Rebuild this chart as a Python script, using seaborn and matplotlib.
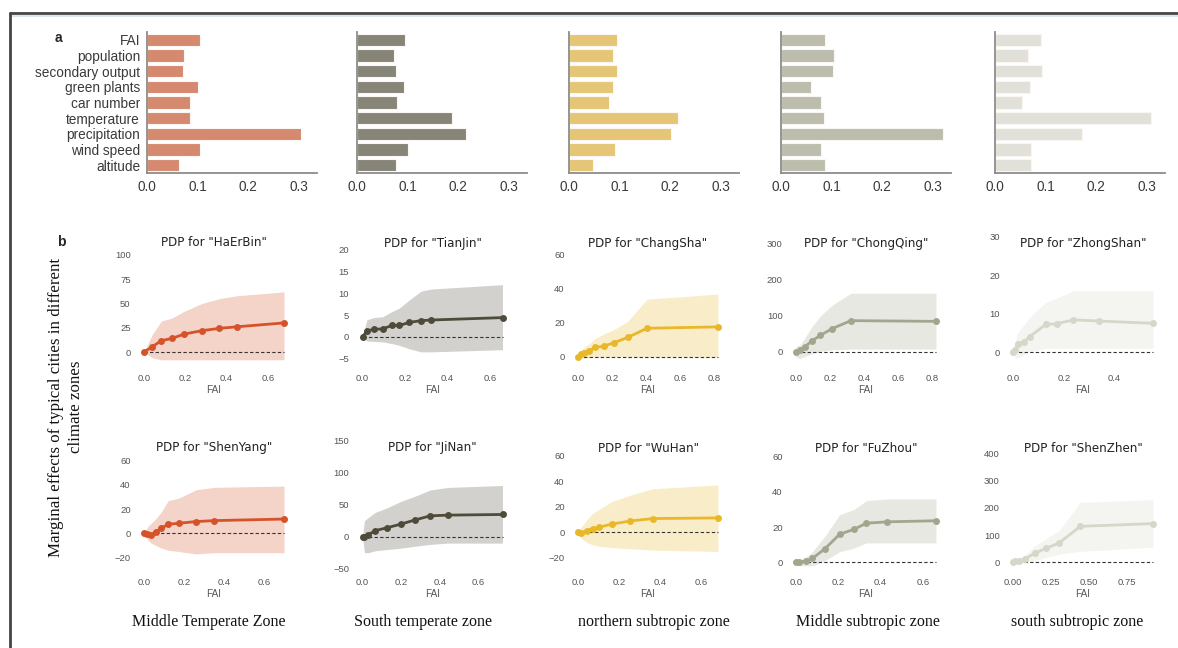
import matplotlib
matplotlib.use("Agg")
import matplotlib.pyplot as plt
from matplotlib.lines import Line2D
import pandas as pd
import seaborn as sns

# ---------------- data ----------------
features = ["FAI", "population", "secondary output", "green plants", "car number",
            "temperature", "precipitation", "wind speed", "altitude"]
zones = ["Middle Temperate Zone", "South temperate zone", "northern subtropic zone",
         "Middle subtropic zone", "south subtropic zone"]

# feature importance per climate zone
imp_middle_temperate = [0.104, 0.074, 0.071, 0.100, 0.085, 0.085, 0.304, 0.104, 0.063]
imp_south_temperate = [0.094, 0.0735, 0.077, 0.093, 0.080, 0.188, 0.2145, 0.1005, 0.0765]
imp_northern_subtropic = [0.094, 0.0865, 0.0947, 0.087, 0.0797, 0.216, 0.2015, 0.091, 0.047]
imp_middle_subtropic = [0.086, 0.105, 0.103, 0.0585, 0.079, 0.0855, 0.321, 0.079, 0.086]
imp_south_subtropic = [0.091, 0.0656, 0.0927, 0.070, 0.053, 0.3075, 0.172, 0.0716, 0.0716]

# partial dependence of each typical city on FAI (grid, pdp, lower, upper)
haerbin = dict(fai=[0, 0.04, 0.084, 0.135, 0.195, 0.28, 0.365, 0.449, 0.678],
               pdp=[0, 5.5, 11.7, 14, 18.5, 22, 24.4, 26, 30],
               lo=[0, -6, -8, -8, -8, -8, -8, -8, -8],
               hi=[0, 18, 32, 35, 42, 50, 55, 58, 62])
tianjin = dict(fai=[0, 0.021, 0.052, 0.095, 0.139, 0.174, 0.221, 0.276, 0.324, 0.66],
               pdp=[0, 1.3, 1.7, 1.8, 2.6, 2.6, 3.3, 3.7, 3.85, 4.4],
               lo=[0, -1.0, -1.1, -1.2, -1.6, -2.0, -2.8, -3.5, -3.5, -3.0],
               hi=[0, 3.9, 4.4, 4.6, 5.8, 6.6, 8.5, 10.5, 11.0, 12.0])
changsha = dict(fai=[0, 0.02, 0.037, 0.063, 0.102, 0.151, 0.209, 0.292, 0.405, 0.822],
                pdp=[0, 1.5, 2.5, 3.7, 5.6, 6.4, 8.3, 11.5, 16.9, 17.7],
                lo=[0, -0.5, -0.5, -0.3, 0, 0, 0, 0, 0, 0],
                hi=[0, 4, 6, 7.5, 11, 13.5, 16, 21, 34, 37])
chongqing = dict(fai=[0, 0.024, 0.053, 0.093, 0.143, 0.212, 0.321, 0.82],
                 pdp=[0, 5.6, 14.8, 30.6, 46.3, 64.8, 87, 85],
                 lo=[-15, -18, -12, -5, 2, 6, 8, 8],
                 hi=[15, 20, 40, 70, 100, 130, 163, 163])
zhongshan = dict(fai=[0, 0.009, 0.018, 0.042, 0.065, 0.129, 0.172, 0.238, 0.338, 0.551],
                 pdp=[0, 0.5, 2.2, 2.6, 4.0, 7.2, 7.4, 8.4, 8.1, 7.5],
                 lo=[0, -1.5, -1.6, -0.8, 0.2, 1, 1, 1, 1, 1],
                 hi=[0, 3, 5, 7, 9, 13, 14, 16, 16, 16])
shenyang = dict(fai=[0, 0.017, 0.034, 0.059, 0.084, 0.121, 0.173, 0.26, 0.35, 0.70],
                pdp=[0, -0.5, -1.5, 1.0, 4.0, 7.5, 8.3, 9.7, 10.5, 11.8],
                lo=[0, -5, -8, -10, -12, -14, -15, -17, -16, -16],
                hi=[0, 5, 8, 12, 17, 27, 29, 36, 38, 39])
jinan = dict(fai=[0, 0.01, 0.03, 0.066, 0.127, 0.197, 0.27, 0.351, 0.443, 0.725],
             pdp=[0, -1, 3, 9.5, 14, 19.5, 26, 32.6, 33.7, 34.7],
             lo=[0, -25, -25, -22, -20, -18, -15, -12, -10, -10],
             hi=[0, 25, 30, 38, 45, 55, 63, 73, 77, 80])
wuhan = dict(fai=[0, 0.016, 0.044, 0.073, 0.105, 0.165, 0.256, 0.365, 0.684],
             pdp=[0, -0.8, 1.3, 2.9, 4, 6.4, 8.8, 10.7, 11.2],
             lo=[0, -5, -8, -10, -11, -12, -13, -14, -15],
             hi=[0, 4, 10, 15, 18, 24, 29, 34, 37])
fuzhou = dict(fai=[0, 0.014, 0.048, 0.078, 0.138, 0.206, 0.273, 0.333, 0.432, 0.662],
              pdp=[0, 0, 0.75, 2.2, 7.8, 15.9, 18.7, 22.2, 23, 23.6],
              lo=[0, -2, -2, -2, 1, 6, 8, 11, 11, 11],
              hi=[0, 1, 3, 6, 15, 27, 30, 35, 36, 36])
shenzhen = dict(fai=[0, 0.015, 0.04, 0.077, 0.143, 0.22, 0.302, 0.444, 0.923],
                pdp=[0, 6, 5, 12, 33, 52, 70, 132, 142],
                lo=[0, -5, -5, -2, 5, 18, 30, 40, 55],
                hi=[0, 10, 15, 25, 60, 88, 115, 220, 230])

city_names = ["HaErBin", "TianJin", "ChangSha", "ChongQing", "ZhongShan",
              "ShenYang", "JiNan", "WuHan", "FuZhou", "ShenZhen"]
city_data = [haerbin, tianjin, changsha, chongqing, zhongshan,
             shenyang, jinan, wuhan, fuzhou, shenzhen]
importances = [imp_middle_temperate, imp_south_temperate, imp_northern_subtropic,
               imp_middle_subtropic, imp_south_subtropic]

# ---------------- styling ----------------
line_colors = ["#d4532b", "#4f4b3a", "#e8b82a", "#a3a58e", "#d6d7c8"]
bar_colors = ["#d5896f", "#878577", "#e5c677", "#bdbdad", "#e1e1d9"]

y_limits = [(-14.4, 123.7), (-6.76, 24.15), (-5.3, 73.5), (-38.9, 333), (-3.6, 31.25),
            (-30.3, 80.4), (-52, 157.3), (-29.5, 75.2), (-4.4, 71.8), (-28.3, 463.5)]
y_ticks = [[0, 25, 50, 75, 100], [-5, 0, 5, 10, 15, 20], [0, 20, 40, 60],
           [0, 100, 200, 300], [0, 10, 20, 30],
           [-20, 0, 20, 40, 60], [-50, 0, 50, 100, 150], [-20, 0, 20, 40, 60],
           [0, 20, 40, 60], [0, 100, 200, 300, 400]]
x_ticks = [[0, 0.2, 0.4, 0.6], [0, 0.2, 0.4, 0.6], [0, 0.2, 0.4, 0.6, 0.8],
           [0, 0.2, 0.4, 0.6, 0.8], [0, 0.2, 0.4],
           [0, 0.2, 0.4, 0.6], [0, 0.2, 0.4, 0.6], [0, 0.2, 0.4, 0.6],
           [0, 0.2, 0.4, 0.6], [0, 0.25, 0.5, 0.75]]

sns.set_style("white")
plt.rcParams["font.family"] = ["Liberation Sans", "DejaVu Sans"]

W, H = 1178, 648
fig = plt.figure(figsize=(W / 100, H / 100), dpi=100)


def px_axes(left, top, right, bottom):
    return fig.add_axes([left / W, 1 - bottom / H, (right - left) / W, (bottom - top) / H])


# ---------------- panel a: importance bars ----------------
bar_lefts = [147, 357, 569, 781, 995]
for i, vals in enumerate(importances):
    ax = px_axes(bar_lefts[i], 32, bar_lefts[i] + 170, 173)
    df = pd.DataFrame({"feature": features, "importance": vals})
    sns.barplot(data=df, x="importance", y="feature", color=bar_colors[i], saturation=1,
                width=0.78, edgecolor="#fbf6f2", linewidth=0.8, ax=ax)
    ax.set_xlim(0, 0.336)
    ax.set_xticks([0, 0.1, 0.2, 0.3])
    ax.set_xticklabels(["0.0", "0.1", "0.2", "0.3"])
    ax.set_xlabel("")
    ax.set_ylabel("")
    sns.despine(ax=ax)
    for s in ["left", "bottom"]:
        ax.spines[s].set_color("#8c8c8c")
        ax.spines[s].set_linewidth(1.3)
    ax.tick_params(axis="both", colors="#8c8c8c", labelcolor="#3a3a3a",
                   labelsize=9.8, length=3, width=0.8, pad=2)
    if i > 0:
        ax.set_yticklabels([])
        ax.tick_params(axis="y", length=0)

# ---------------- panel b: partial dependence ----------------
pdp_x0 = [144, 362.5, 578, 796, 1013]
row_top = [232, 436]
row_bottom = [366, 570]
title_y = [243, 448]
for k, (name, d) in enumerate(zip(city_names, city_data)):
    row, col = divmod(k, 5)
    x0 = pdp_x0[col]
    ax = px_axes(x0 - 5, row_top[row], x0 + 145, row_bottom[row])
    c = line_colors[col]
    xmax = max(d["fai"])
    ax.fill_between(d["fai"], d["lo"], d["hi"], color=c, alpha=0.25, lw=0)
    ax.plot([0, xmax], [0, 0], ls="--", color="#333333", lw=0.8, dashes=(3, 2))
    sns.lineplot(x=d["fai"], y=d["pdp"], color=c, lw=2, marker="o", markersize=5,
                 markeredgewidth=0, ax=ax)
    ax.set_xlim(-5 / 140 * xmax, 145 / 140 * xmax)
    ax.set_ylim(*y_limits[k])
    ax.set_xticks(x_ticks[k])
    ax.set_yticks(y_ticks[k])
    sns.despine(ax=ax, left=True, bottom=True)
    ax.tick_params(colors="#9a9a9a", labelcolor="#555555", labelsize=6.8,
                   length=3.5, width=0.8, pad=2.5)
    ax.set_xlabel("FAI", fontsize=7.2, color="#555555", labelpad=1)
    ax.set_ylabel("")
    fig.text((x0 + 70) / W, 1 - title_y[row] / H, f'PDP for "{name}"', ha="center",
             va="center", fontsize=8.6, family="DejaVu Sans", color="#222222")

# ---------------- labels ----------------
fig.text(55 / W, 1 - 38 / H, "a", fontsize=10, fontweight="bold", ha="left", va="center")
fig.text(57 / W, 1 - 242 / H, "b", fontsize=10, fontweight="bold", ha="left", va="center")
fig.text(66 / W, 1 - 407 / H, "Marginal effects of typical cities in different\nclimate zones",
         rotation=90, ha="center", va="center", family="Liberation Serif", fontsize=12.2,
         linespacing=1.3, color="#111111")
zone_x = [209, 423, 654, 868, 1077]
for zx, z in zip(zone_x, zones):
    fig.text(zx / W, 1 - 622 / H, z, ha="center", va="center", family="Liberation Serif",
             fontsize=11.5, color="#111111")

# frame lines
fig.add_artist(Line2D([10 / W, 1], [1 - 13 / H, 1 - 13 / H], color="#444444", lw=2))
fig.add_artist(Line2D([10 / W, 1], [1 - 15.5 / H, 1 - 15.5 / H], color="#dde7f3", lw=1.5))
fig.add_artist(Line2D([10 / W, 10 / W], [0, 1 - 13 / H], color="#444444", lw=2))

fig.savefig("out.png", dpi=100)
